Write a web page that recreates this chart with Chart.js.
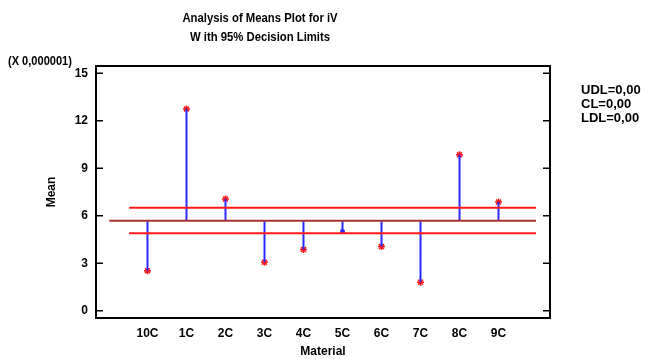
<!DOCTYPE html>
<html>
<head>
<meta charset="utf-8">
<script src="https://cdn.jsdelivr.net/npm/chart.js@4/dist/chart.umd.min.js"></script>
<style>
  html, body { margin: 0; padding: 0; background: #fff; }
  #wrap { width: 647px; height: 359px; position: relative; }
</style>
</head>
<body>
<div id="wrap"><canvas id="anom"></canvas></div>
<script>
// group means (x 0,000001) and decision limits
const materials = ["10C", "1C", "2C", "3C", "4C", "5C", "6C", "7C", "8C", "9C"];
const means = [2.53, 12.75, 7.06, 3.06, 3.86, 4.99, 4.05, 1.80, 9.86, 6.87];
const centerLine = 5.69;
const upperLimit = 6.51;
const lowerLimit = 4.89;
const yTicks = [0, 3, 6, 9, 12, 15];
const titleLines = ["Analysis of Means Plot for iV", "W ith 95% Decision Limits"];
const limitLabels = ["UDL=0,00", "CL=0,00", "LDL=0,00"];

const FONT = "'Liberation Sans', Arial, sans-serif";

// stems: one segment per group, separated by nulls
const stemData = [];
means.forEach((m, i) => {
  stemData.push({ x: i, y: centerLine }, { x: i, y: m }, { x: i, y: null });
});

const outside = means.map((m) => m > upperLimit || m < lowerLimit);

// bold text with optional horizontal squeeze
function boldText(ctx, text, x, y, size, align, sx) {
  ctx.save();
  ctx.font = "bold " + size + "px " + FONT;
  ctx.textAlign = align;
  ctx.textBaseline = "middle";
  ctx.scale(sx, 1);
  ctx.fillText(text, x / sx, y);
  ctx.restore();
}

const frame = {
  id: "frame",
  afterDraw(chart) {
    const { ctx, chartArea: a, scales } = chart;
    ctx.save();
    ctx.strokeStyle = "#000";
    ctx.lineWidth = 2;
    ctx.strokeRect(a.left, a.top, a.right - a.left, a.bottom - a.top);
    // inward tick marks on both sides
    ctx.lineWidth = 1.5;
    yTicks.forEach((v) => {
      const y = scales.y.getPixelForValue(v);
      ctx.beginPath();
      ctx.moveTo(a.left, y); ctx.lineTo(a.left + 7, y);
      ctx.moveTo(a.right, y); ctx.lineTo(a.right - 7, y);
      ctx.stroke();
    });
    ctx.fillStyle = "#000";
    boldText(ctx, titleLines[0], 260, 18, 13, "center", 0.87);
    boldText(ctx, titleLines[1], 260, 37, 13, "center", 0.87);
    boldText(ctx, "(X 0,000001)", 8, 61, 13, "left", 0.85);
    limitLabels.forEach((t, i) => boldText(ctx, t, 581, 90 + i * 14, 13, "left", 1));
    ctx.restore();
  }
};

new Chart(document.getElementById("anom"), {
  type: "line",
  data: {
    datasets: [
      {
        data: [{ x: -0.98, y: centerLine }, { x: 9.96, y: centerLine }],
        borderColor: "#a83232", borderWidth: 2, pointRadius: 0
      },
      {
        data: [{ x: -0.47, y: upperLimit }, { x: 9.96, y: upperLimit }],
        borderColor: "#ff1a1a", borderWidth: 2, pointRadius: 0
      },
      {
        data: [{ x: -0.47, y: lowerLimit }, { x: 9.96, y: lowerLimit }],
        borderColor: "#ff1a1a", borderWidth: 2, pointRadius: 0
      },
      {
        data: stemData,
        borderColor: "#2a2aff", borderWidth: 2, pointRadius: 0, spanGaps: false
      },
      {
        data: means.map((m, i) => ({ x: i, y: m })),
        showLine: false,
        pointStyle: outside.map((o) => (o ? "star" : "rect")),
        pointRadius: outside.map((o) => (o ? 3.5 : 2.5)),
        pointBorderColor: outside.map((o) => (o ? "#ff1a1a" : "#2a2aff")),
        pointBackgroundColor: outside.map((o) => (o ? "#ff1a1a" : "#2a2aff")),
        pointBorderWidth: outside.map((o) => (o ? 1.5 : 1))
      }
    ]
  },
  options: {
    responsive: true,
    maintainAspectRatio: false,
    animation: false,
    layout: { padding: { top: 66, right: 97, left: 0, bottom: 0 } },
    plugins: { legend: { display: false }, tooltip: { enabled: false }, title: { display: false } },
    scales: {
      x: {
        type: "linear",
        min: -1.32,
        max: 10.32,
        afterBuildTicks: (s) => { s.ticks = materials.map((_, i) => ({ value: i })); },
        afterFit: (s) => { s.height = 41; },
        grid: { display: false },
        border: { display: false },
        ticks: {
          callback: (v) => materials[v],
          color: "#000",
          font: { family: FONT, size: 12, weight: "bold" },
          padding: 0,
          maxRotation: 0,
          autoSkip: false
        },
        title: {
          display: true, text: "Material", color: "#000",
          font: { family: FONT, size: 12, weight: "bold" },
          padding: { top: 0, bottom: 0 }
        }
      },
      y: {
        min: -0.46,
        max: 15.46,
        afterBuildTicks: (s) => { s.ticks = yTicks.map((v) => ({ value: v })); },
        afterFit: (s) => { s.width = 96; },
        grid: { display: false },
        border: { display: false },
        ticks: {
          color: "#000",
          font: { family: FONT, size: 12, weight: "bold" },
          padding: 0
        },
        title: {
          display: true, text: "Mean", color: "#000",
          font: { family: FONT, size: 12, weight: "bold" },
          padding: { top: 44, bottom: 0 }
        }
      }
    }
  },
  plugins: [frame]
});
</script>
</body>
</html>
